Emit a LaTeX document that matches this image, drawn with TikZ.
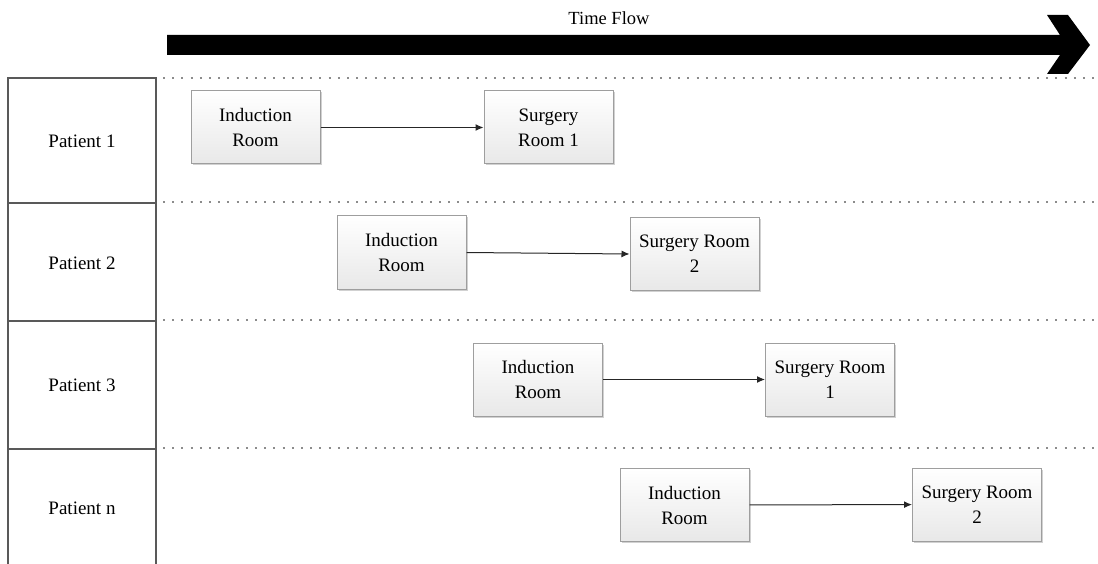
\documentclass[tikz,border=0pt]{standalone}
\usepackage{fontspec}
\setmainfont{Liberation Serif}
\usetikzlibrary{shadows,arrows.meta}
\begin{document}
\begin{tikzpicture}[x=1pt,y=-1pt,
  roombox/.style={draw=black!38, line width=1pt, top color=white, bottom color=black!9,
    minimum width=129pt, minimum height=73pt, inner sep=0pt, align=center,
    font=\fontsize{19}{25}\selectfont,
    drop shadow={shadow xshift=1.5pt, shadow yshift=-1.5pt, opacity=0.18, fill=black}},
  plabel/.style={font=\fontsize{19}{25}\selectfont, inner sep=0pt},
  rowline/.style={draw=black!45, line width=1.6pt, dash pattern=on 2pt off 7.2pt},
  cellline/.style={draw=black!65, line width=1.4pt},
  flow/.style={draw=black!85, line width=1pt, -{Latex[length=8pt,width=7pt]}}
]
\useasboundingbox (0,0) rectangle (1098,564);
% time arrow
\fill[black] (167,35) -- (1060,35) -- (1047,15) -- (1068,15) -- (1090,45)
  -- (1068,74) -- (1047,74) -- (1060,55) -- (167,55) -- cycle;
\node[plabel, font=\fontsize{18.5}{22}\selectfont] (tf) at (609,18) {Time Flow};
% dotted row lines
\coordinate (d1a) at (163,78);  \coordinate (d1b) at (1098,78);
\coordinate (d2a) at (163,202); \coordinate (d2b) at (1098,202);
\coordinate (d3a) at (163,320); \coordinate (d3b) at (1098,320);
\coordinate (d4a) at (163,448); \coordinate (d4b) at (1098,448);
\draw[rowline] (d1a) -- (d1b);
\draw[rowline] (d2a) -- (d2b);
\draw[rowline] (d3a) -- (d3b);
\draw[rowline] (d4a) -- (d4b);
% left column
\draw[cellline] (8,566) -- (8,78) -- (156,78) -- (156,566);
\draw[cellline] (8,203) -- (156,203);
\draw[cellline] (8,321) -- (156,321);
\draw[cellline] (8,449) -- (156,449);
\node[plabel] (p1) at (82,141) {Patient 1};
\node[plabel] (p2) at (82,263) {Patient 2};
\node[plabel] (p3) at (82,385) {Patient 3};
\node[plabel] (pn) at (82,508) {Patient n};
% rooms
\node[roombox] (ir1) at (255.5,127.5) {Induction\\Room};
\node[roombox] (sr1) at (548.5,127.5) {Surgery\\Room 1};
\node[roombox] (ir2) at (401.5,252.5) {Induction\\Room};
\node[roombox] (sr2) at (694.5,254) {Surgery Room\\2};
\node[roombox] (ir3) at (538,379.5) {Induction\\Room};
\node[roombox] (sr3) at (830,379.5) {Surgery Room\\1};
\node[roombox] (ir4) at (684.5,505) {Induction\\Room};
\node[roombox] (sr4) at (977,504.5) {Surgery Room\\2};
% connectors
\draw[flow] (ir1) -- (sr1);
\draw[flow] (ir2.east) -- (sr2.west);
\draw[flow] (ir3) -- (sr3);
\draw[flow] (ir4) -- (sr4);
\end{tikzpicture}
\end{document}
